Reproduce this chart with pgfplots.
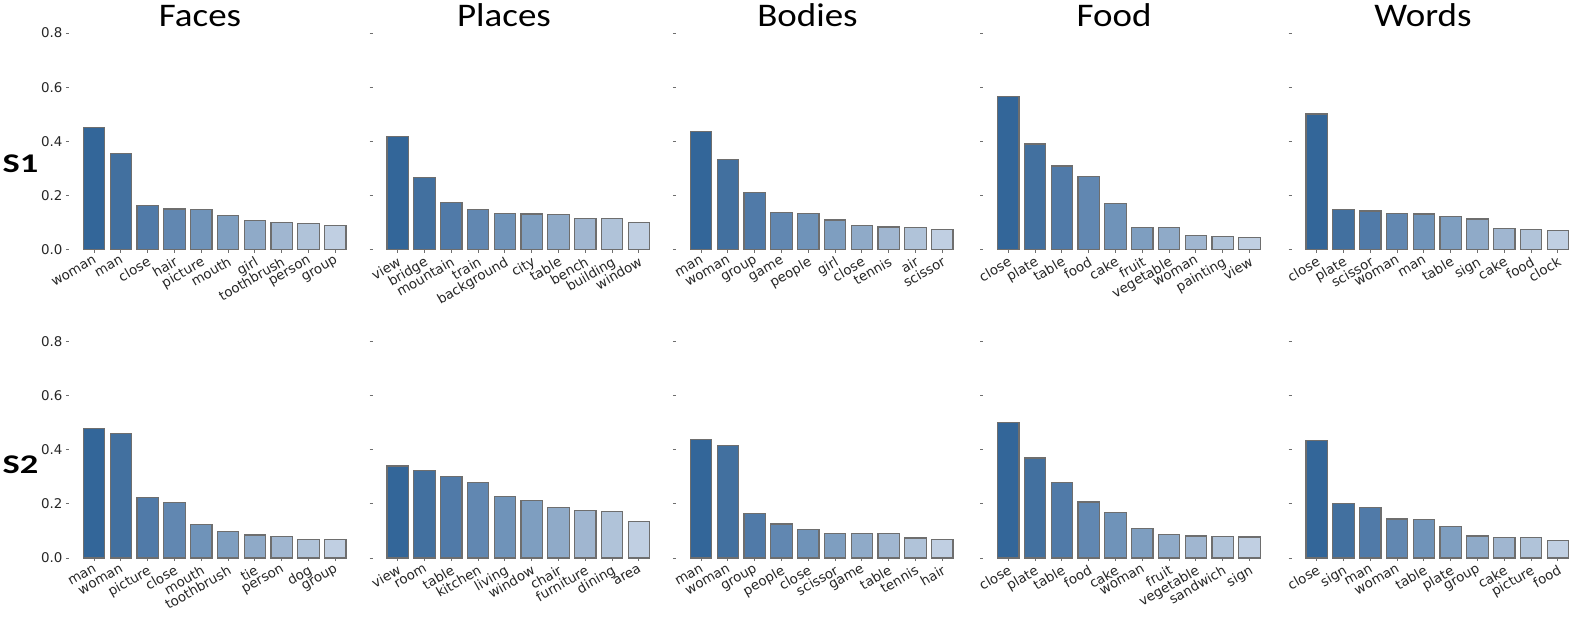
\documentclass[border=0pt]{standalone}
\usepackage{pgfplots}
\pgfplotsset{compat=1.18}
\usepackage{pgfplotstable}
\usepackage{fontspec}
\setmainfont{DejaVu Sans}
\newfontfamily\carlito{Carlito}

% seaborn-like blues, dark to light
\definecolor{bar0}{HTML}{336699}
\definecolor{bar1}{HTML}{42709F}
\definecolor{bar2}{HTML}{507AA8}
\definecolor{bar3}{HTML}{6187B1}
\definecolor{bar4}{HTML}{6F93B9}
\definecolor{bar5}{HTML}{7E9EC0}
\definecolor{bar6}{HTML}{8FAAC8}
\definecolor{bar7}{HTML}{A0B6D0}
\definecolor{bar8}{HTML}{B0C3D9}
\definecolor{bar9}{HTML}{C0CFE2}
\definecolor{edge}{HTML}{6E6E6E}
\definecolor{ticktext}{HTML}{262626}

% ---- S1 ----
\pgfplotstableread{
w v
woman 0.451
man 0.356
close 0.162
hair 0.150
picture 0.149
mouth 0.127
girl 0.106
toothbrush 0.100
person 0.095
group 0.088
}\facesA
\pgfplotstableread{
w v
view 0.419
bridge 0.266
mountain 0.175
train 0.148
background 0.132
city 0.131
table 0.128
bench 0.115
building 0.115
window 0.101
}\placesA
\pgfplotstableread{
w v
man 0.436
woman 0.333
group 0.210
game 0.136
people 0.133
girl 0.109
close 0.088
tennis 0.083
air 0.080
scissor 0.073
}\bodiesA
\pgfplotstableread{
w v
close 0.565
plate 0.390
table 0.309
food 0.269
cake 0.171
fruit 0.081
vegetable 0.081
woman 0.053
painting 0.049
view 0.043
}\foodA
\pgfplotstableread{
w v
close 0.501
plate 0.149
scissor 0.142
woman 0.132
man 0.131
table 0.121
sign 0.113
cake 0.078
food 0.073
clock 0.070
}\wordsA

% ---- S2 ----
\pgfplotstableread{
w v
man 0.480
woman 0.459
picture 0.223
close 0.206
mouth 0.124
toothbrush 0.099
tie 0.085
person 0.080
dog 0.069
group 0.067
}\facesB
\pgfplotstableread{
w v
view 0.340
room 0.324
table 0.301
kitchen 0.280
living 0.226
window 0.212
chair 0.187
furniture 0.176
dining 0.171
area 0.134
}\placesB
\pgfplotstableread{
w v
man 0.438
woman 0.417
group 0.164
people 0.126
close 0.104
scissor 0.092
game 0.091
table 0.090
tennis 0.074
hair 0.067
}\bodiesB
\pgfplotstableread{
w v
close 0.500
plate 0.370
table 0.279
food 0.207
cake 0.169
woman 0.108
fruit 0.088
vegetable 0.081
sandwich 0.079
sign 0.078
}\foodB
\pgfplotstableread{
w v
close 0.433
sign 0.202
man 0.186
woman 0.144
table 0.141
plate 0.116
group 0.081
cake 0.075
picture 0.075
food 0.065
}\wordsB

\pgfplotsset{
  panel/.style={
    scale only axis, width=139.76pt, height=108.2pt,
    anchor=south west,
    xmin=-0.93, xmax=9.5, ymin=0, ymax=0.8,
    enlargelimits=false,
    axis x line*=bottom, axis y line*=left,
    axis line style={draw=none},
    tick align=outside, major tick length=1.6pt,
    tick style={draw=edge, line width=0.5pt},
    xtick={0,...,9}, ytick={0,0.2,0.4,0.6,0.8},
    ybar, bar width=0.8,
    /pgf/number format/assume math mode=true,
    /pgf/number format/fixed,
    /pgf/number format/fixed zerofill,
    /pgf/number format/precision=1,
    ticklabel style={font=\fontsize{6.7}{8}\selectfont, text=ticktext},
    xticklabel style={rotate=30, anchor=north east, inner sep=1pt},
    yticklabel style={inner sep=1.5pt},
  },
}

\newcommand\panel[4]{%
  \begin{axis}[panel, at={(#1pt,#2pt)}, xticklabels from table={#3}{w}, #4]
    \pgfplotsinvokeforeach{0,...,9}{%
      \addplot[fill=bar##1, draw=edge, line width=0.6pt, bar shift=0pt]
        table[x expr=\coordindex, y=v, restrict x to domain=##1:##1]{#3};
    }
  \end{axis}}

\begin{document}
\begin{tikzpicture}
\useasboundingbox (0,0) rectangle (789pt,308pt);

\panel{34.55}{183.25}{\facesA}{}
\panel{186.4}{183.25}{\placesA}{yticklabels={}}
\panel{338.05}{183.25}{\bodiesA}{yticklabels={}}
\panel{491.7}{183.25}{\foodA}{yticklabels={}}
\panel{645.9}{183.25}{\wordsA}{yticklabels={}}

\panel{34.55}{29}{\facesB}{}
\panel{186.4}{29}{\placesB}{yticklabels={}}
\panel{338.05}{29}{\bodiesB}{yticklabels={}}
\panel{491.7}{29}{\foodB}{yticklabels={}}
\panel{645.9}{29}{\wordsB}{yticklabels={}}

\begin{scope}[every node/.style={anchor=base, font=\carlito\fontsize{16.5}{18}\selectfont, xscale=1.12, inner sep=0pt}]
  \node at (100pt,294.5pt) {Faces};
  \node at (252pt,294.5pt) {Places};
  \node at (403.75pt,294.5pt) {Bodies};
  \node at (557pt,294.5pt) {Food};
  \node at (711.5pt,294.5pt) {Words};
\end{scope}

\begin{scope}[every node/.style={anchor=base west, font=\carlito\bfseries\fontsize{13.5}{15}\selectfont, xscale=1.35, inner sep=0pt}]
  \node at (1pt,221.5pt) {S1};
  \node at (1pt,71.5pt) {S2};
\end{scope}
\end{tikzpicture}
\end{document}
